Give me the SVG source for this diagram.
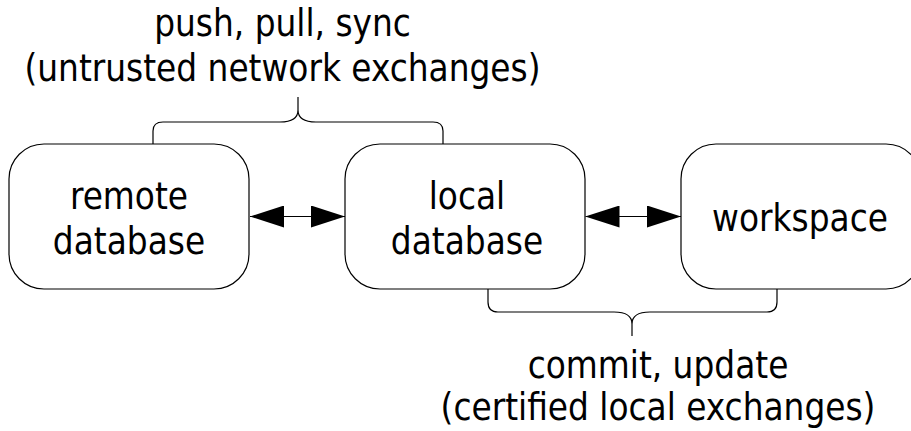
<svg xmlns="http://www.w3.org/2000/svg" width="911" height="431" viewBox="0 0 911 431">
<style>
.box{fill:#fff;stroke:#000;stroke-width:1.2}
.t{font-family:"DejaVu Sans Condensed","DejaVu Sans",sans-serif;font-stretch:condensed;font-size:36.5px;fill:#000;text-anchor:middle}
.ln{fill:none;stroke:#000;stroke-width:1.2}
</style>
<defs>
<marker id="ah" markerUnits="userSpaceOnUse" markerWidth="34" markerHeight="22" refX="34" refY="11" orient="auto-start-reverse" viewBox="0 0 34 22">
<path d="M0,0 L34,11 L0,22 z" fill="#000"/>
</marker>
</defs>
<rect width="911" height="431" fill="#fff"/>
<g id="label-top">
<text class="t" x="282.5" y="36">push, pull, sync</text>
<text class="t" x="282.5" y="81">(untrusted network exchanges)</text>
</g>
<g id="label-bottom">
<text class="t" x="658" y="378">commit, update</text>
<text class="t" x="658" y="420">(certified local exchanges)</text>
</g>
<g id="remote">
<rect class="box" x="9" y="144" width="240" height="145" rx="35" ry="35"/>
<text class="t" x="129" y="209">remote</text>
<text class="t" x="129" y="254">database</text>
</g>
<g id="local">
<rect class="box" x="345" y="144" width="240" height="145" rx="35" ry="35"/>
<text class="t" x="467" y="209">local</text>
<text class="t" x="467" y="254">database</text>
</g>
<g id="workspace">
<rect class="box" x="681" y="144" width="240" height="145" rx="35" ry="35"/>
<text class="t" x="800" y="231">workspace</text>
</g>
<g id="connectors">
<line class="ln" x1="250" y1="216.5" x2="345" y2="216.5" marker-start="url(#ah)" marker-end="url(#ah)"/>
<line class="ln" x1="585.5" y1="216.5" x2="681" y2="216.5" marker-start="url(#ah)" marker-end="url(#ah)"/>
<path class="ln" d="M153,144 L153,131 Q153,122 163,122 L280,122 Q298,122 298,110 L298,97 M298,110 Q298,122 316,122 L433,122 Q443,122 443,131 L443,144"/>
<path class="ln" d="M488,289 L488,302 Q488,312 498,312 L614,312 Q632,312 632,324 L632,336 M632,324 Q632,312 650,312 L767,312 Q777,312 777,302 L777,289"/>
</g>
</svg>
